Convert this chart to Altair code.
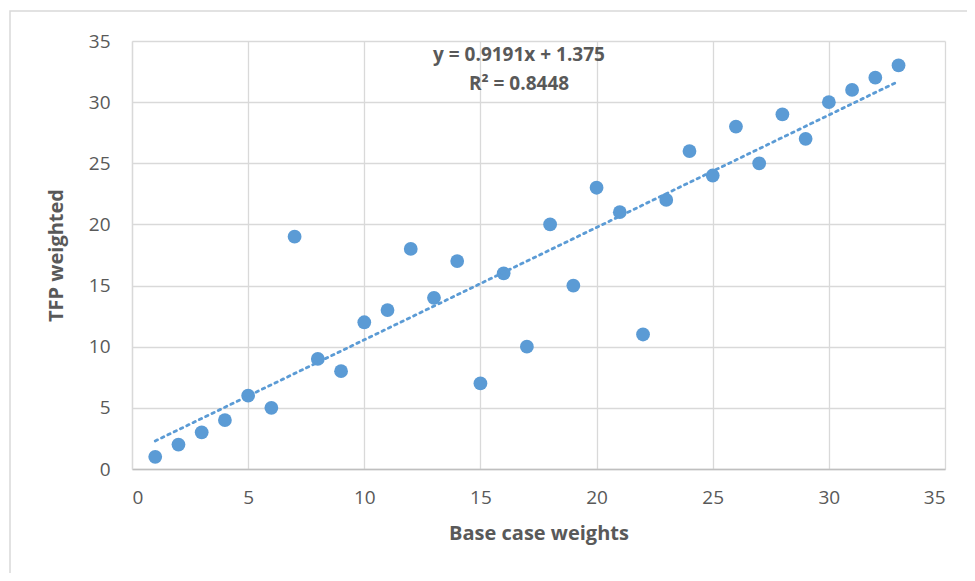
import altair as alt
import pandas as pd

base_case = list(range(1, 34))
tfp_weighted = [1, 2, 3, 4, 6, 5, 19, 9, 8, 12, 13, 18, 14, 17, 7, 16, 10, 20,
                15, 23, 21, 11, 22, 26, 24, 28, 25, 29, 27, 30, 31, 32, 33]
equation_line = "y = 0.9191x + 1.375"
r2_line = "R² = 0.8448"

df = pd.DataFrame({"x": base_case, "y": tfp_weighted})

FONT = "Open Sans"
BLUE = "#5B9BD5"
W, H = 813, 428

xs = alt.Scale(domain=[0, 35], nice=False, zero=True)
ys = alt.Scale(domain=[0, 35], nice=False, zero=True)

x_axis = alt.Axis(values=list(range(0, 36, 5)), title="Base case weights",
                  grid=True, gridColor="#D9D9D9", gridWidth=1.3,
                  domainColor="#BFBFBF", domainWidth=1.5, ticks=False,
                  labelFont=FONT, labelFontSize=19, labelColor="#595959",
                  labelPadding=19, titleFont=FONT, titleFontSize=20,
                  titleFontWeight="bold", titleColor="#595959", titlePadding=16)
y_axis = alt.Axis(values=list(range(0, 36, 5)), title="TFP weighted",
                  grid=True, gridColor="#D9D9D9", gridWidth=1.3,
                  domainColor="#D9D9D9", domainWidth=1.3, ticks=False,
                  labelFont=FONT, labelFontSize=19, labelColor="#595959",
                  labelPadding=22, titleFont=FONT, titleFontSize=20,
                  titleFontWeight="bold", titleColor="#595959", titlePadding=22)

one = pd.DataFrame({"a": [0]})

border = alt.Chart(one).mark_rect(
    fill=None, stroke="#D9D9D9", strokeWidth=1.5, clip=False
).encode(x=alt.value(-122), x2=alt.value(W + 200), y=alt.value(-30), y2=alt.value(H + 300))

points = alt.Chart(df).mark_circle(size=190, color=BLUE, opacity=1).encode(
    x=alt.X("x:Q", scale=xs, axis=x_axis),
    y=alt.Y("y:Q", scale=ys, axis=y_axis),
)

trend = alt.Chart(df).transform_regression("x", "y").mark_line(
    color=BLUE, strokeWidth=2.8, strokeDash=[2.5, 4.5], strokeCap="round"
).encode(x=alt.X("x:Q", scale=xs), y=alt.Y("y:Q", scale=ys))

def label(text, ypix):
    return alt.Chart(pd.DataFrame({"t": [text]})).mark_text(
        font=FONT, fontSize=19, fontWeight="bold", color="#595959",
        align="center", baseline="middle"
    ).encode(text="t:N", x=alt.value(387), y=alt.value(ypix))

chart = alt.layer(border, points, trend, label(equation_line, 14), label(r2_line, 43)).properties(
    width=W, height=H,
    autosize=alt.AutoSizeParams(type="none"),
    padding={"left": 124, "top": 33, "right": 22, "bottom": 104},
    background="white",
).configure_view(stroke=None)

chart.save("out.html", embed_options={"renderer": "svg", "actions": False})
